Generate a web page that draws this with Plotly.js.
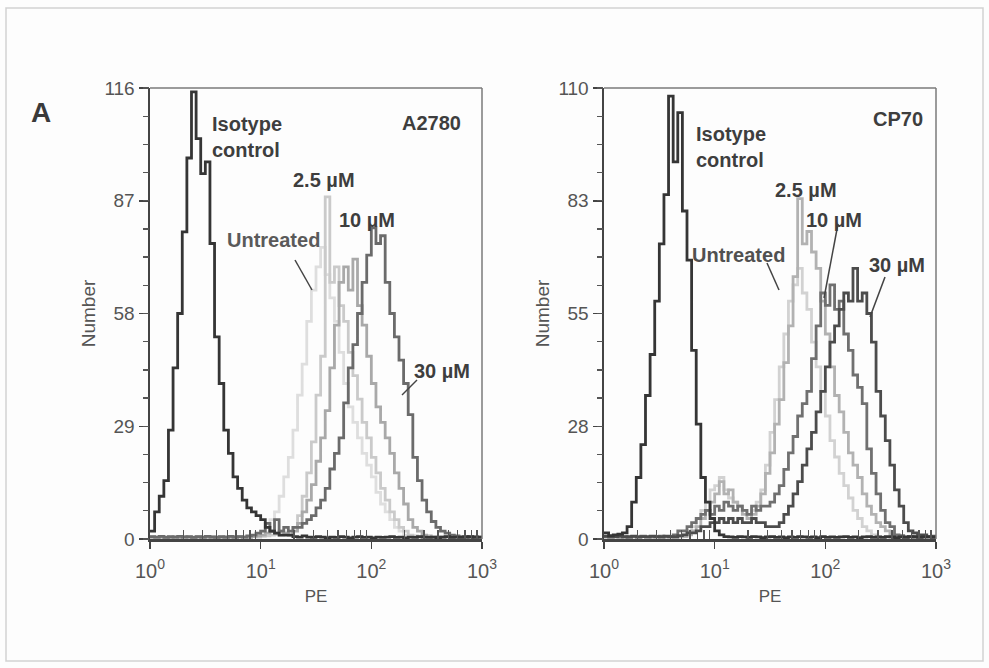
<!DOCTYPE html>
<html><head><meta charset="utf-8">
<script src="https://cdn.plot.ly/plotly-3.0.1.min.js"></script>
<style>html,body{margin:0;padding:0;background:#fdfdfd}#chart{width:989px;height:668px}</style>
</head><body><div id="chart"></div>
<script>
// PE channels (24 per decade)
const peChannels = [1, 1.101, 1.212, 1.334, 1.468, 1.616, 1.778, 1.957, 2.154, 2.371, 2.610, 2.873, 3.162, 3.481, 3.831, 4.217, 4.642, 5.109, 5.623, 6.190, 6.813, 7.499, 8.254, 9.085,
  10, 11.01, 12.12, 13.34, 14.68, 16.16, 17.78, 19.57, 21.54, 23.71, 26.10, 28.73, 31.62, 34.81, 38.31, 42.17, 46.42, 51.09, 56.23, 61.90, 68.13, 74.99, 82.54, 90.85,
  100, 110.1, 121.2, 133.4, 146.8, 161.6, 177.8, 195.7, 215.4, 237.1, 261.0, 287.3, 316.2, 348.1, 383.1, 421.7, 464.2, 510.9, 562.3, 619.0, 681.3, 749.9, 825.4, 908.5, 1000];

// A2780 panel
const a2780Isotype = [2, 7, 11, 15, 28, 44, 58, 79, 98, 115,
  103, 94, 97, 76, 52, 40, 28, 22, 16, 13,
  10, 8, 7, 6, 5, 3, 2, 1.5, 1, 1,
  1, 0.6, 0.5, 0.8, 0.5, 0.4, 0.6, 0.5, 0.3, 0.5,
  0.4, 0.6, 0.5, 0.3, 0.5, 0.6, 0.4, 0.5, 0.3, 0.5,
  0.4, 0.5, 0.6, 0.4, 0.5, 0.3, 0.5, 0.4, 0.6, 0.5,
  0.4, 0.5, 0.3, 0.5, 0.6, 0.4, 0.5, 0.4, 0.5, 0.6,
  0.4, 0.5, 0.5];
const a2780Untreated = [0.5, 0.3, 0.6, 0.4, 0.5, 0.3, 0.5, 0.6, 0.4, 0.5,
  0.3, 0.5, 0.4, 0.6, 0.5, 0.3, 0.5, 0.4, 0.6, 0.5,
  0.4, 0.6, 0.8, 1, 2, 3, 5, 7, 11, 16,
  21, 28, 37, 45, 56, 64, 70, 75, 68, 62,
  56, 48, 40, 34, 30, 26, 22, 19, 16, 12,
  9, 7, 5, 3, 2, 1, 0.8, 0.5, 0.4, 0.5,
  0.3, 0.5, 0.4, 0.5, 0.3, 0.4, 0.5, 0.3, 0.4, 0.5,
  0.3, 0.4, 0.4];
const a2780Dose25 = [0.4, 0.5, 0.3, 0.5, 0.4, 0.6, 0.3, 0.5, 0.4, 0.5,
  0.6, 0.4, 0.5, 0.3, 0.5, 0.4, 0.6, 0.5, 0.4, 0.5,
  0.5, 0.4, 0.6, 0.5, 0.7, 0.8, 1, 1.2, 1, 1.5,
  1, 3, 6, 11, 17, 25, 37, 47, 88, 66,
  70, 60, 56, 48, 42, 36, 30, 26, 21, 17,
  13, 10, 7, 5, 3, 2, 1, 0.8, 0.5, 0.4,
  0.5, 0.3, 0.5, 0.4, 0.5, 0.3, 0.4, 0.5, 0.4, 0.3,
  0.5, 0.4, 0.4];
const a2780Dose10 = [0.5, 0.4, 0.6, 0.5, 0.3, 0.5, 0.4, 0.6, 0.5, 0.4,
  0.5, 0.3, 0.5, 0.6, 0.4, 0.5, 0.3, 0.5, 0.4, 0.6,
  0.5, 0.4, 0.6, 0.8, 1, 1.5, 2, 1.5, 2, 1.5,
  1, 2, 4, 7, 10, 14, 20, 26, 33, 44,
  55, 66, 70, 64, 72, 60, 55, 47, 40, 34,
  30, 26, 22, 17, 13, 9, 5, 3, 2, 1,
  0.8, 0.5, 0.4, 0.5, 0.6, 0.4, 0.5, 0.3, 0.5, 0.4,
  0.5, 0.4, 0.4];
const a2780Dose30 = [0.6, 0.5, 0.7, 0.4, 0.6, 0.5, 0.7, 0.5, 0.6, 0.4,
  0.6, 0.5, 0.7, 0.5, 0.4, 0.6, 0.5, 0.7, 0.5, 0.6,
  0.5, 0.8, 1, 1.5, 2, 4, 2, 5, 2, 3,
  2, 3, 3, 4, 5, 6, 8, 10, 13, 18,
  22, 26, 35, 44, 50, 58, 66, 73, 80, 76,
  78, 66, 58, 52, 46, 40, 32, 21, 15, 10,
  7, 4.5, 3, 2, 1.5, 1, 0.8, 0.6, 0.7, 0.5,
  0.6, 0.5, 0.5];

// CP70 panel
const cp70Isotype = [1.5, 0.8, 1, 1.2, 1.5, 3, 9, 15, 23, 35,
  45, 58, 72, 84, 108, 92, 104, 80, 68, 46,
  28, 15, 9, 5, 2, 1, 0.6, 0.5, 0.4, 0.6,
  0.5, 0.4, 0.6, 0.5, 0.3, 0.5, 0.6, 0.4, 0.5, 0.3,
  0.5, 0.4, 0.6, 0.5, 0.4, 0.5, 0.3, 0.6, 0.4, 0.5,
  0.4, 0.5, 0.6, 0.4, 0.5, 0.3, 0.5, 0.6, 0.4, 0.5,
  0.4, 0.6, 0.5, 0.3, 0.5, 0.4, 0.6, 0.5, 0.4, 0.5,
  0.5, 0.4, 0.5];
const cp70Untreated = [0.4, 0.5, 0.3, 0.5, 0.4, 0.6, 0.5, 0.3, 0.5, 0.4,
  0.6, 0.5, 0.4, 0.5, 0.3, 0.5, 0.6, 1, 2, 3,
  5, 7, 9, 12, 13, 15, 12, 10, 9, 8,
  7, 6, 7, 9, 12, 18, 26, 34, 42, 50,
  58, 62, 66, 60, 56, 48, 42, 36, 30, 24,
  20, 16, 13, 10, 7, 5, 3, 2, 1, 0.6,
  0.5, 0.4, 0.5, 0.3, 0.5, 0.4, 0.5, 0.3, 0.4, 0.5,
  0.4, 0.5, 0.4];
const cp70Dose25 = [0.5, 0.4, 0.6, 0.4, 0.5, 0.3, 0.5, 0.4, 0.6, 0.5,
  0.4, 0.5, 0.3, 0.6, 0.5, 0.4, 0.5, 0.6, 1, 2,
  3, 5, 7, 9, 11, 14, 11, 12, 9, 8,
  6, 5, 6, 8, 11, 16, 21, 28, 34, 43,
  52, 64, 83, 72, 75, 70, 66, 58, 50, 42,
  35, 31, 26, 21, 18, 15, 11, 8, 6, 4,
  3, 2, 1, 0.6, 0.5, 0.4, 0.5, 0.3, 0.5, 0.4,
  0.5, 0.4, 0.4];
const cp70Dose10 = [0.6, 0.5, 0.7, 0.5, 0.6, 0.4, 0.6, 0.5, 0.7, 0.5,
  0.6, 0.5, 0.7, 0.5, 0.6, 1, 2, 2, 3, 4,
  5, 6, 7, 6, 8, 7, 9, 8, 7, 8,
  7, 6, 8, 7, 8, 8, 9, 11, 13, 17,
  21, 25, 30, 33, 36, 44, 52, 60, 57, 62,
  56, 58, 50, 46, 40, 37, 33, 22, 16, 11,
  7, 4, 3, 1, 0.8, 0.6, 0.5, 0.7, 0.5, 0.6,
  0.5, 0.6, 0.5];
const cp70Dose30 = [0.7, 0.5, 0.6, 0.8, 0.5, 0.6, 0.7, 0.5, 0.6, 0.5,
  0.7, 0.6, 0.5, 0.7, 0.6, 0.5, 0.8, 1, 1.5, 1.5,
  2, 3, 3, 4, 4, 5, 4, 5, 4, 5,
  4, 4, 5, 4, 4, 3, 3, 3, 4, 6,
  8, 11, 14, 18, 22, 26, 31, 36, 42, 48,
  52, 56, 60, 58, 66, 58, 60, 55, 48, 36,
  30, 24, 18, 12, 8, 4, 2, 1.5, 1, 1,
  0.6, 0.7, 0.6];

const xTickVals = [1, 10, 100, 1000];
const xTickText = ['10<sup>0</sup>', '10<sup>1</sup>', '10<sup>2</sup>', '10<sup>3</sup>'];
const xMinorTickVals = [2, 3, 4, 5, 6, 7, 8, 9, 20, 30, 40, 50, 60, 70, 80, 90, 200, 300, 400, 500, 600, 700, 800, 900];
const yTickValsA = [0, 29, 58, 87, 116];
const yTickTextA = ['0', '29', '58', '87', '116'];
const yTickValsB = [0, 27.5, 55, 82.5, 110];
const yTickTextB = ['0', '28', '55', '83', '110'];

function hist(y, color, xa, ya, name) {
  return {x: peChannels, y: y, type: 'scatter', mode: 'lines', name: name,
    line: {shape: 'hv', color: color, width: 2.8}, xaxis: xa, yaxis: ya, hoverinfo: 'skip'};
}
// invisible anchor so the overlaid minor-tick axes get drawn
function tickHolder(xa, ya) {
  return {x: [xTickVals[1]], y: [yTickValsA[1]], type: 'scatter', mode: 'markers',
    marker: {opacity: 0, size: 1}, xaxis: xa, yaxis: ya, hoverinfo: 'skip', showlegend: false};
}

const data = [
  hist(a2780Untreated, '#dedede', 'x', 'y', 'Untreated'),
  hist(a2780Dose25, '#cacaca', 'x', 'y', '2.5 µM'),
  hist(a2780Dose10, '#a9a9a9', 'x', 'y', '10 µM'),
  hist(a2780Dose30, '#6b6b6b', 'x', 'y', '30 µM'),
  hist(a2780Isotype, '#353535', 'x', 'y', 'Isotype control'),
  hist(cp70Untreated, '#d2d2d2', 'x2', 'y2', 'Untreated'),
  hist(cp70Dose25, '#b2b2b2', 'x2', 'y2', '2.5 µM'),
  hist(cp70Dose10, '#707070', 'x2', 'y2', '10 µM'),
  hist(cp70Dose30, '#4c4c4c', 'x2', 'y2', '30 µM'),
  hist(cp70Isotype, '#353535', 'x2', 'y2', 'Isotype control'),
  tickHolder('x3', 'y3'),
  tickHolder('x4', 'y4')
];

const W = 989, H = 668;
const px = v => v / W, py = v => 1 - v / H;
const FONT = 'Liberation Sans, Arial, sans-serif';
const tickFontX = {family: FONT, size: 20, color: '#555'};
const tickFontY = {family: FONT, size: 19, color: '#555'};

function xAxis(domain, anchor) {
  return {domain: domain, anchor: anchor, type: 'log', range: [0, 3],
    tickmode: 'array', tickvals: xTickVals, ticktext: xTickText,
    ticks: 'outside', ticklen: 7, tickwidth: 1.5, tickcolor: '#444',
    ticklabelstandoff: 5,
    showline: true, linecolor: '#444', linewidth: 2.5, showgrid: false, zeroline: false,
    tickfont: tickFontX,
    title: {text: 'PE', font: {family: FONT, size: 17, color: '#555'}, standoff: 10}};
}
function xMinorAxis(domain, overlay, anchor) {
  return {domain: domain, overlaying: overlay, anchor: anchor, side: 'bottom', type: 'log', range: [0, 3],
    tickmode: 'array', tickvals: xMinorTickVals, showticklabels: false,
    ticks: 'inside', ticklen: 9, tickwidth: 1.3, tickcolor: '#555', layer: 'above traces',
    showline: false, showgrid: false, zeroline: false};
}
function yAxis(domain, anchor, range, vals, text) {
  return {domain: domain, anchor: anchor, range: range,
    tickmode: 'array', tickvals: vals, ticktext: text,
    ticks: 'outside', ticklen: 9, tickwidth: 1.5, tickcolor: '#444',
    showline: true, linecolor: '#444', linewidth: 2.5, showgrid: false, zeroline: false,
    tickfont: tickFontY,
    title: {text: 'Number', font: {family: FONT, size: 19, color: '#555'}, standoff: 4}};
}
function yMinorAxis(domain, overlay, anchor, range, step) {
  return {domain: domain, overlaying: overlay, anchor: anchor, side: 'left', range: range,
    tickmode: 'linear', tick0: 0, dtick: step, showticklabels: false,
    ticks: 'outside', ticklen: 6, tickwidth: 1.3, tickcolor: '#555',
    showline: false, showgrid: false, zeroline: false};
}

const yDom = [py(539), py(88)];
function label(text, x, y, opts) {
  return Object.assign({xref: 'paper', yref: 'paper', x: px(x), y: py(y), text: text, showarrow: false,
    xanchor: 'left', yanchor: 'middle', align: 'left',
    font: {family: FONT, size: 20, color: '#3e3e3e', weight: 'bold'}}, opts || {});
}
function pointer(x0, y0, x1, y1) {
  return {type: 'line', xref: 'paper', yref: 'paper', x0: px(x0), y0: py(y0), x1: px(x1), y1: py(y1),
    line: {color: '#444', width: 1.5}};
}
function frameLines(xr, yr) {
  return [
    {type: 'line', xref: xr + ' domain', yref: yr + ' domain', x0: 0, x1: 1, y0: 1, y1: 1, line: {color: '#7a7a7a', width: 1.5}},
    {type: 'line', xref: xr + ' domain', yref: yr + ' domain', x0: 1, x1: 1, y0: 0, y1: 1, line: {color: '#7a7a7a', width: 1.5}}
  ];
}

const domA = [px(150), px(482)], domB = [px(604), px(936)];
const layout = {
  width: W, height: H, margin: {l: 0, r: 0, t: 0, b: 0},
  paper_bgcolor: '#fdfdfd', plot_bgcolor: 'rgba(0,0,0,0)', showlegend: false,
  font: {family: FONT, color: '#444'},
  xaxis: xAxis(domA, 'y'),
  yaxis: yAxis(yDom, 'x', [0, 116], yTickValsA, yTickTextA),
  xaxis2: xAxis(domB, 'y2'),
  yaxis2: yAxis(yDom, 'x2', [0, 110], yTickValsB, yTickTextB),
  xaxis3: xMinorAxis(domA, 'x', 'y3'),
  xaxis4: xMinorAxis(domB, 'x2', 'y4'),
  yaxis3: yMinorAxis(yDom, 'y', 'x3', [0, 116], 7.25),
  yaxis4: yMinorAxis(yDom, 'y2', 'x4', [0, 110], 6.875),
  annotations: [
    label('A', 41, 112, {xanchor: 'center', font: {family: FONT, size: 28, color: '#3a3a3a', weight: 'bold'}}),
    label('Isotype<br>control', 210, 137),
    label('A2780', 431, 123, {xanchor: 'center'}),
    label('2.5 µM', 291, 180),
    label('10 µM', 337, 220),
    label('Untreated', 225, 240, {font: {family: FONT, size: 20, color: '#5a5a5a', weight: 'bold'}}),
    label('30 µM', 412, 371),
    label('Isotype<br>control', 694, 147),
    label('CP70', 898, 119, {xanchor: 'center'}),
    label('2.5 µM', 773, 190),
    label('10 µM', 804, 220),
    label('Untreated', 690, 255, {font: {family: FONT, size: 20, color: '#505050', weight: 'bold'}}),
    label('30 µM', 867, 265)
  ],
  shapes: [
    {type: 'rect', xref: 'paper', yref: 'paper', x0: px(6), x1: px(983), y0: py(661), y1: py(8),
      line: {color: '#d2d2d2', width: 1.5}, layer: 'below'},
    ...frameLines('x', 'y'), ...frameLines('x2', 'y2'),
    pointer(295, 260, 312, 290),
    pointer(417, 380, 402, 395),
    pointer(767, 263, 779, 290),
    pointer(838, 224, 824, 298),
    pointer(885, 277, 870, 317)
  ]
};

Plotly.newPlot('chart', data, layout, {displayModeBar: false, staticPlot: true});
</script>
</body></html>
